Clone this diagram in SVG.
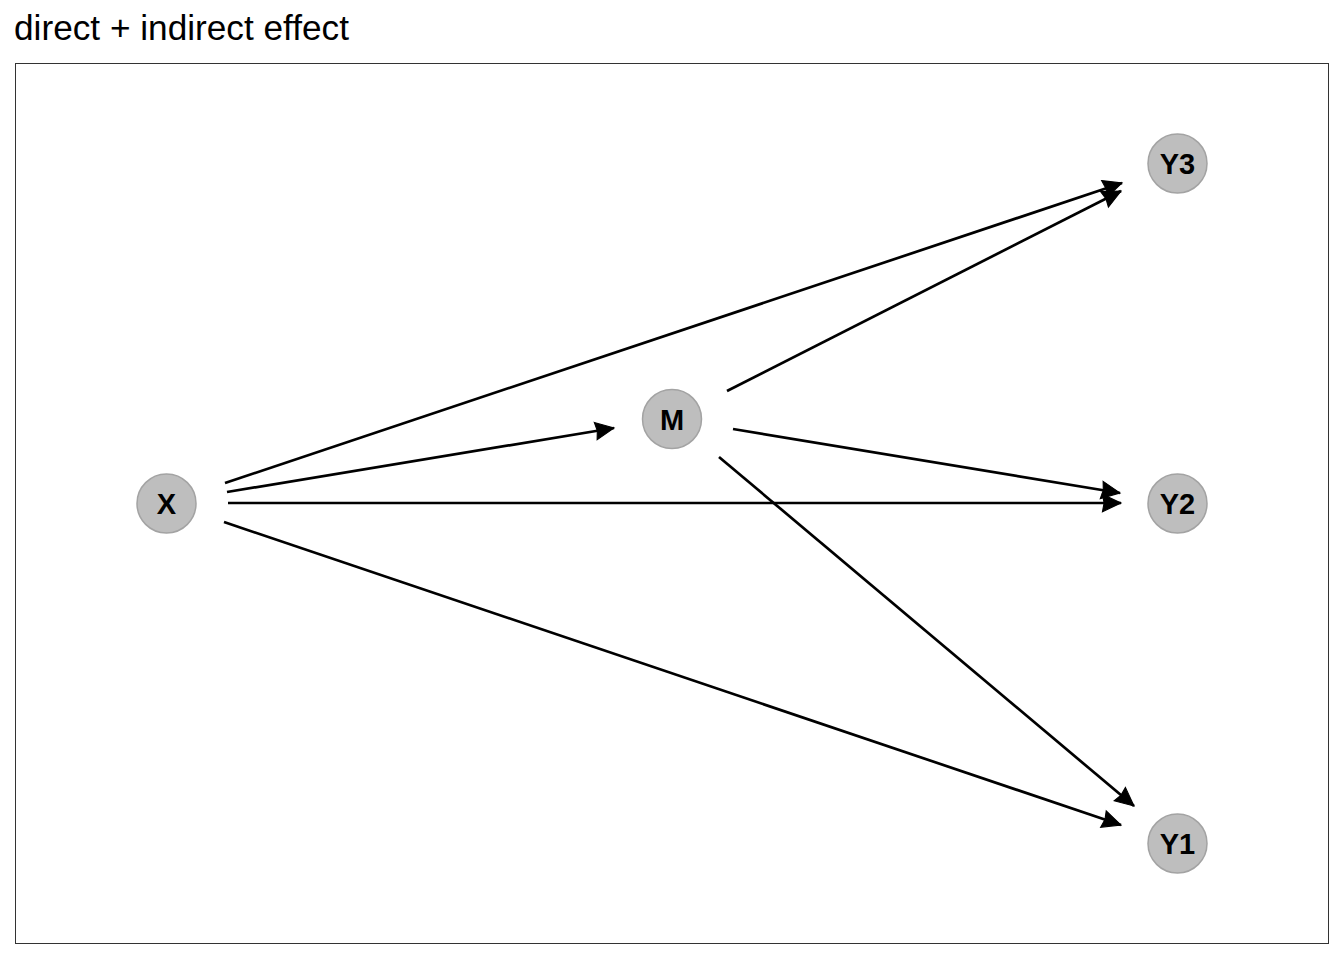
<svg xmlns="http://www.w3.org/2000/svg" width="1344" height="960" viewBox="0 0 1344 960">
<style>
.title{font-family:"Liberation Sans",Arial,sans-serif;font-size:35px;fill:#000}
.node circle{fill:#bebebe;stroke:#a3a3a3;stroke-width:1.5}
.node text{font-family:"Liberation Sans",Arial,sans-serif;font-size:29px;font-weight:bold;fill:#000;text-anchor:middle;dominant-baseline:central}
.edge{stroke:#000;stroke-width:2.7;fill:none;marker-end:url(#ah)}
</style>
<defs>
<marker id="ah" markerUnits="userSpaceOnUse" markerWidth="24" markerHeight="24" refX="17" refY="0" viewBox="-2 -11 21 22" orient="auto">
<path d="M0,-8 L17,0 L0,8 L1.5,0 z" fill="#000" stroke="#000" stroke-width="1" stroke-linejoin="miter"/>
</marker>
</defs>
<rect width="1344" height="960" fill="#fff"/>
<text class="title" x="14" y="40" textLength="335" lengthAdjust="spacingAndGlyphs">direct + indirect effect</text>
<rect x="15.5" y="63.5" width="1313" height="880" fill="none" stroke="#333" stroke-width="1"/>
<g id="connectors">
<line class="edge" x1="225" y1="483" x2="1122" y2="183"/>
<line class="edge" x1="227" y1="492" x2="614" y2="428"/>
<line class="edge" x1="228" y1="503" x2="1121" y2="503"/>
<line class="edge" x1="224" y1="522" x2="1121" y2="825"/>
<line class="edge" x1="727" y1="391" x2="1121" y2="191"/>
<line class="edge" x1="733" y1="429" x2="1120" y2="493"/>
<line class="edge" x1="719" y1="457" x2="1134" y2="806"/>
</g>
<g id="node-X" class="node"><circle cx="166.5" cy="503.5" r="29.5"/><text x="166.5" y="504">X</text></g>
<g id="node-M" class="node"><circle cx="672" cy="419" r="29.5"/><text x="672" y="420">M</text></g>
<g id="node-Y3" class="node"><circle cx="1177.5" cy="163.5" r="29.5"/><text x="1177.5" y="164">Y3</text></g>
<g id="node-Y2" class="node"><circle cx="1177.5" cy="503.5" r="29.5"/><text x="1177.5" y="504">Y2</text></g>
<g id="node-Y1" class="node"><circle cx="1177.5" cy="843.5" r="29.5"/><text x="1177.5" y="844">Y1</text></g>
</svg>
